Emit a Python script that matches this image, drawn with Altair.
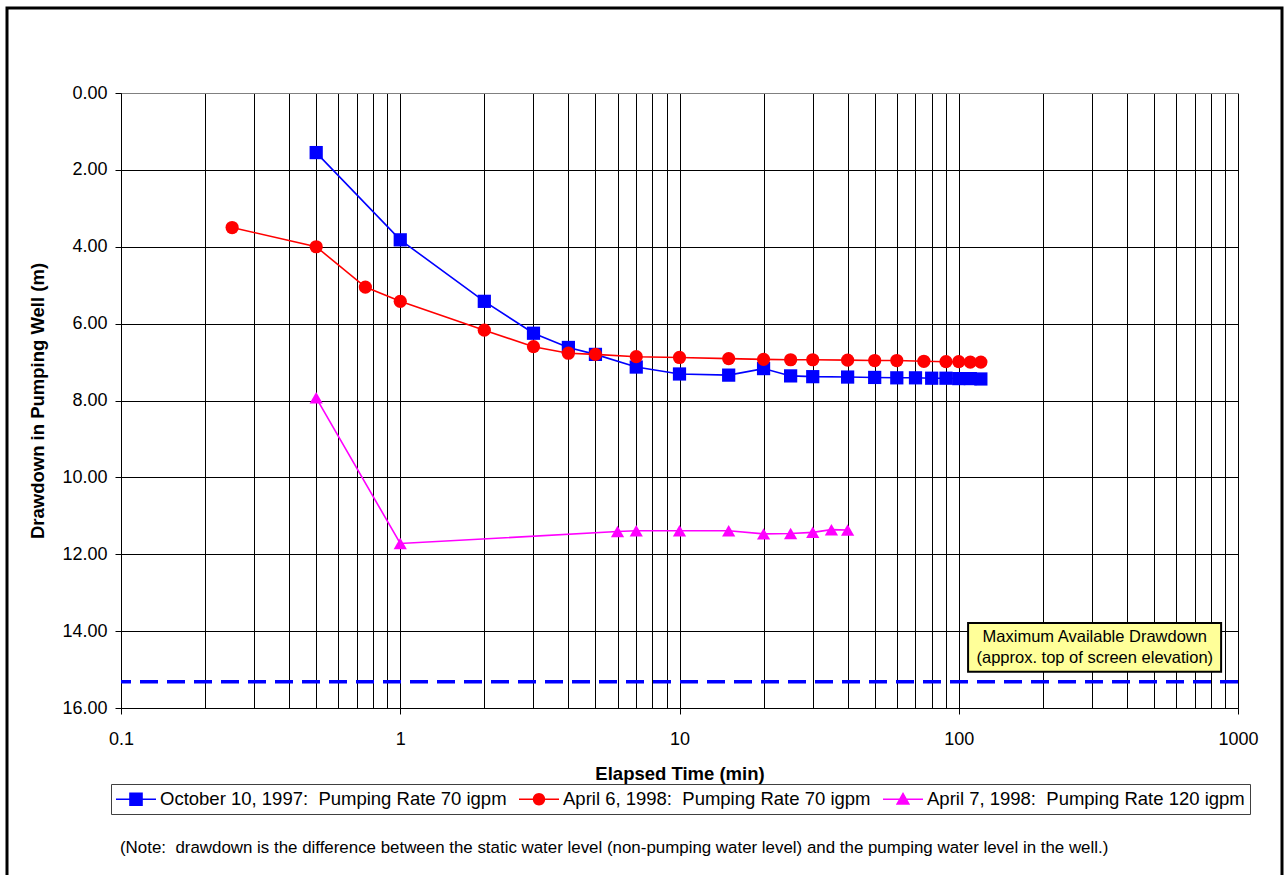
import altair as alt
import pandas as pd

NB = "\u00a0"  # keeps the double spaces after the colons

# Pumping test series: elapsed time (min) and drawdown (m)
oct97_label = f"October 10, 1997:{NB} Pumping Rate 70 igpm"
oct97_time = [0.5, 1, 2, 3, 4, 5, 7, 10, 15, 20, 25, 30, 40, 50, 60, 70, 80, 90, 100, 110, 120]
oct97_drawdown = [1.55, 3.82, 5.42, 6.25, 6.62, 6.80, 7.13, 7.31, 7.34, 7.17, 7.36, 7.38, 7.39,
                  7.40, 7.41, 7.41, 7.42, 7.42, 7.43, 7.43, 7.44]

apr6_label = f"April 6, 1998:{NB} Pumping Rate 70 igpm"
apr6_time = [0.25, 0.5, 0.75, 1, 2, 3, 4, 5, 7, 10, 15, 20, 25, 30, 40, 50, 60, 75, 90, 100, 110, 120]
apr6_drawdown = [3.50, 4.00, 5.05, 5.42, 6.17, 6.60, 6.77, 6.80, 6.86, 6.88, 6.91, 6.93, 6.94,
                 6.94, 6.95, 6.96, 6.96, 6.98, 6.99, 6.99, 7.00, 7.00]

apr7_label = f"April 7, 1998:{NB} Pumping Rate 120 igpm"
apr7_time = [0.5, 1, 6, 7, 10, 15, 20, 25, 30, 35, 40]
apr7_drawdown = [7.93, 11.72, 11.41, 11.39, 11.39, 11.39, 11.47, 11.46, 11.43, 11.36, 11.37]

series_labels = [oct97_label, apr6_label, apr7_label]
series_colors = ["#0000FF", "#FF0000", "#FF00FF"]
series_shapes = ["square", "circle", "triangle-up"]

max_drawdown = 15.32
max_drawdown_text = ["Maximum Available Drawdown", "(approx. top of screen elevation)"]
note_text = (f"(Note:{NB} drawdown is the difference between the static water level "
             "(non-pumping water level) and the pumping water level in the well.)")

x_grid = [m * d for d in [0.1, 1, 10, 100] for m in range(1, 10)] + [1000]
y_ticks = list(range(0, 17, 2))

series_frames = [
    pd.DataFrame({"series": lab, "time": t, "drawdown": d})
    for lab, t, d in [(oct97_label, oct97_time, oct97_drawdown),
                      (apr6_label, apr6_time, apr6_drawdown),
                      (apr7_label, apr7_time, apr7_drawdown)]
]

FONT = "Liberation Sans"
W, H = 1117, 615

x_scale = alt.Scale(type="log", domain=[0.1, 1000], nice=False)
y_scale = alt.Scale(domain=[0, 16], reverse=True, nice=False)

decade_test = "indexof([0.1, 1, 10, 100, 1000], datum.value) >= 0"

x_axis = alt.Axis(
    values=x_grid, format="~g",
    labelExpr=f"{decade_test} ? datum.label : ''",
    grid=True, gridColor="#000000", gridOpacity=1, gridWidth=1,
    tickColor="#000000", tickSize=6,
    tickOpacity={"condition": {"test": decade_test, "value": 1}, "value": 0},
    domainColor="#000000", labelFont=FONT, labelFontSize=18, labelColor="#000000",
    labelPadding=16, labelFlush=False,
    title="Elapsed Time (min)", titleFont=FONT, titleFontSize=18.5, titleFontWeight="bold",
    titleColor="#000000", titlePadding=16,
)
y_axis = alt.Axis(
    values=y_ticks, format=".2f",
    grid=True, gridColor={"condition": {"test": "datum.value == 0", "value": "#808080"},
                          "value": "#000000"},
    gridOpacity=1, gridWidth=1,
    tickColor="#000000", tickSize=6, domainColor="#000000",
    labelFont=FONT, labelFontSize=18, labelColor="#000000", labelPadding=8,
    title="Drawdown in Pumping Well (m)", titleFont=FONT, titleFontSize=18.5,
    titleFontWeight="bold", titleColor="#000000", titlePadding=14,
)

# Legend symbol paths: a short line with the series marker in its middle
line_path = "M-2,-0.075H2V0.075H-2Z"
legend_paths = [
    line_path + "M-0.68,-0.68H0.68V0.68H-0.68Z",
    line_path + "M0.62,0A0.62,0.62 0 1,1 -0.62,0A0.62,0.62 0 1,1 0.62,0Z",
    line_path + "M0,-0.72L0.72,0.56L-0.72,0.56Z",
]

legend = alt.Legend(
    title=None, orient="none", legendX=-10, legendY=691, direction="horizontal", columns=3,
    labelFont=FONT, labelFontSize=18.5, labelColor="#000000", labelOffset=14, labelLimit=0,
    symbolOffset=10, symbolSize=400, symbolStrokeWidth=0, symbolOpacity=1, columnPadding=12,
    padding=5, strokeColor="#404040", fillColor="#FFFFFF",
)

# Axes frame: gridlines, ticks and labels on the shared scales
axes = alt.Chart(series_frames[0]).mark_point(opacity=0).encode(
    x=alt.X("time:Q", scale=x_scale, axis=x_axis),
    y=alt.Y("drawdown:Q", scale=y_scale, axis=y_axis),
)

# Line and marker layers for each series
series_layers = []
for frame_df, color, shp in zip(series_frames, series_colors, series_shapes):
    src = alt.Chart(frame_df)
    enc = dict(x=alt.X("time:Q", scale=x_scale), y=alt.Y("drawdown:Q", scale=y_scale))
    series_layers.append(
        src.mark_line(color=color, strokeWidth=1.6, clip=True).encode(order="time:Q", **enc)
    )
    series_layers.append(
        src.mark_point(filled=True, shape=shp, color=color, size=175, opacity=1,
                       clip=True).encode(**enc)
    )

# Invisible layer that carries the legend (line + marker symbols)
legend_layer = alt.Chart(pd.DataFrame({"series": series_labels})).mark_point(
    filled=True, size=400, opacity=0
).encode(
    x=alt.value(0), y=alt.value(0),
    color=alt.Color("series:N", scale=alt.Scale(domain=series_labels, range=series_colors),
                    legend=legend, sort=series_labels),
    shape=alt.Shape("series:N", scale=alt.Scale(domain=series_labels, range=legend_paths),
                    legend=legend, sort=series_labels),
)

limit_df = pd.DataFrame({"drawdown": [max_drawdown]})
limit = alt.Chart(limit_df).mark_rule(
    color="#0000FF", strokeWidth=3.5, strokeDash=[18, 9]
).encode(y=alt.Y("drawdown:Q", scale=y_scale))

# Annotation box for the maximum available drawdown
box_df = pd.DataFrame({"x": [108], "x2": [870], "y": [13.79], "y2": [15.06]})
box = alt.Chart(box_df).mark_rect(fill="#FFFF99", stroke="#000000", strokeWidth=2).encode(
    x=alt.X("x:Q", scale=x_scale), x2="x2:Q",
    y=alt.Y("y:Q", scale=y_scale), y2="y2:Q",
)
box_text = alt.Chart(pd.DataFrame({"x": [307], "y": [14.15],
                                   "t": [max_drawdown_text]})).mark_text(
    font=FONT, fontSize=16.5, color="#000000", align="center", baseline="middle",
    lineHeight=21,
).encode(x=alt.X("x:Q", scale=x_scale), y=alt.Y("y:Q", scale=y_scale), text="t:N")

note = alt.Chart(pd.DataFrame({"t": [note_text]})).mark_text(
    font=FONT, fontSize=16.9, color="#000000", align="left", baseline="middle"
).encode(x=alt.value(-1), y=alt.value(755), text="t:N")

outer = alt.Chart(pd.DataFrame({"k": [0]})).mark_rect(
    fill=None, stroke="#000000", strokeWidth=3, clip=False
).encode(x=alt.value(-114), x2=alt.value(1161), y=alt.value(-85), y2=alt.value(800))

chart = alt.layer(axes, outer, limit, *series_layers, box, box_text, note, legend_layer).properties(
    width=W, height=H, background="#FFFFFF",
    autosize=alt.AutoSizeParams(type="none"),
    padding={"left": 121, "top": 93, "right": 49, "bottom": 167},
).configure_view(stroke=None)

chart.save("out.html", embed_options={"renderer": "svg", "actions": False})
